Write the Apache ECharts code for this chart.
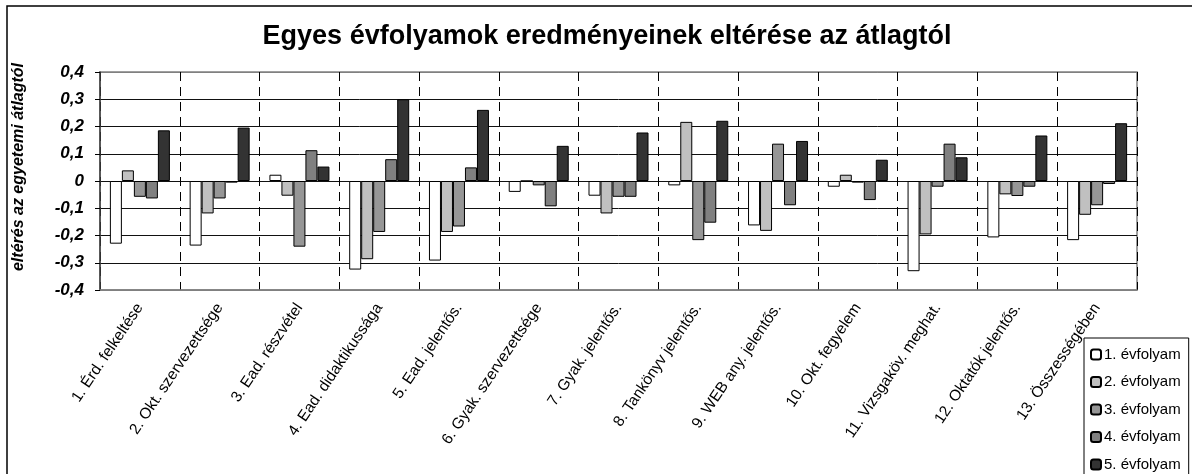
<!DOCTYPE html>
<html>
<head>
<meta charset="utf-8">
<script src="https://cdn.jsdelivr.net/npm/echarts@6/dist/echarts.min.js"></script>
<style>
html,body{margin:0;padding:0;background:#fff;overflow:hidden;width:1192px;height:474px;}
#chart{position:absolute;left:0;top:0;width:1210px;height:500px;}
</style>
</head>
<body>
<div id="chart"></div>
<script>
const titleText = 'Egyes évfolyamok eredményeinek eltérése az átlagtól';
const yAxisName = 'eltérés az egyetemi átlagtól';
const categories = ['1. Érd. felkeltése','2. Okt. szervezettsége','3. Ead. részvétel','4. Ead. didaktikussága','5. Ead. jelentős.','6. Gyak. szervezettsége','7. Gyak. jelentős.','8. Tankönyv jelentős.','9. WEB any. jelentős.','10. Okt. fegyelem','11. Vizsgaköv. meghat.','12. Oktatók jelentős.','13. Összességében'];
const seriesNames = ['1. évfolyam','2. évfolyam','3. évfolyam','4. évfolyam','5. évfolyam'];
const ev1 = [-0.230,-0.237, 0.023,-0.325,-0.292,-0.040,-0.054,-0.016,-0.163,-0.021,-0.331,-0.207,-0.217];
const ev2 = [ 0.039,-0.119,-0.054,-0.287,-0.187, 0.000,-0.119, 0.217,-0.183, 0.023,-0.196,-0.049,-0.124];
const ev3 = [-0.058,-0.064,-0.241,-0.187,-0.167,-0.016,-0.058,-0.217, 0.137,-0.006,-0.021,-0.055,-0.089];
const ev4 = [-0.064,-0.006, 0.113, 0.080, 0.050,-0.093,-0.058,-0.153,-0.089,-0.070, 0.137,-0.021,-0.011];
const ev5 = [ 0.186, 0.196, 0.053, 0.300, 0.261, 0.129, 0.178, 0.221, 0.147, 0.078, 0.087, 0.167, 0.212];
const yTicks = [-0.4,-0.3,-0.2,-0.1,0,0.1,0.2,0.3,0.4];

const values = [ev1, ev2, ev3, ev4, ev5];
const colors = ['#ffffff','#c0c0c0','#969696','#808080','#333333'];
const FONT = '"Liberation Sans", Arial, sans-serif';

const chart = echarts.init(document.getElementById('chart'), null, {renderer:'canvas'});
const fmt = v => {
  if (Math.abs(v) < 1e-9) return '0';
  return v.toFixed(1).replace('.', ',');
};
chart.setOption({
  animation: false,
  backgroundColor: '#ffffff',
  title: {
    text: titleText,
    left: 602, textAlign: 'center',
    top: 18,
    textStyle: {fontFamily: FONT, fontSize: 27, fontWeight: 'bold', color: '#000'}
  },
  graphic: [{
    type: 'rect', silent: true, z: 100,
    shape: {x: 7, y: 6, width: 1300, height: 700},
    style: {fill: 'none', stroke: '#000', lineWidth: 1.5}
  }, {
    type: 'text', silent: true,
    x: 19, y: 167, rotation: Math.PI / 2,
    style: {
      text: yAxisName, fill: '#000',
      font: 'italic bold 16px "Liberation Sans", Arial, sans-serif',
      textAlign: 'center', textVerticalAlign: 'middle'
    }
  }],
  legend: {
    orient: 'vertical',
    left: 1084, top: 338,
    padding: [9, 8, 9, 6],
    itemWidth: 10, itemHeight: 10,
    itemGap: 12.5,
    borderColor: '#000', borderWidth: 1,
    textStyle: {fontFamily: FONT, fontSize: 15, color: '#000', padding: [0,0,0,-2]},
    data: seriesNames
  },
  grid: {
    left: 100, top: 72, right: 1210 - 1137, bottom: 500 - 290,
    show: true, borderColor: '#808080', borderWidth: 1.5, backgroundColor: 'transparent'
  },
  xAxis: {
    type: 'category',
    data: categories,
    boundaryGap: true,
    axisLine: {show: true, onZero: false, lineStyle: {color: '#808080', width: 1.5}},
    axisTick: {show: false},
    splitLine: {show: true, lineStyle: {color: '#000', width: 1, type: [9, 6]}},
    axisLabel: {
      interval: 0, rotate: 56, margin: 15,
      fontFamily: FONT, fontSize: 15.5, color: '#000'
    }
  },
  yAxis: {
    type: 'value',
    min: -0.4, max: 0.4, interval: 0.1,
    axisLine: {show: true, lineStyle: {color: '#404040', width: 1.5}},
    axisTick: {show: true, length: 5, lineStyle: {color: '#000'}},
    splitLine: {show: true, lineStyle: {color: ['#808080','#111','#111','#111','#111','#111','#111','#111','#808080'], width: 1}},
    axisLabel: {
      margin: 16, formatter: fmt,
      fontFamily: FONT, fontSize: 17, fontWeight: 'bold', fontStyle: 'italic', color: '#000'
    }
  },
  series: values.map((arr, i) => ({
    name: seriesNames[i],
    type: 'bar',
    data: arr,
    barWidth: 12,
    barGap: '0%',
    itemStyle: {color: colors[i], borderColor: '#000', borderWidth: 1}
  }))
});
</script>
</body>
</html>
